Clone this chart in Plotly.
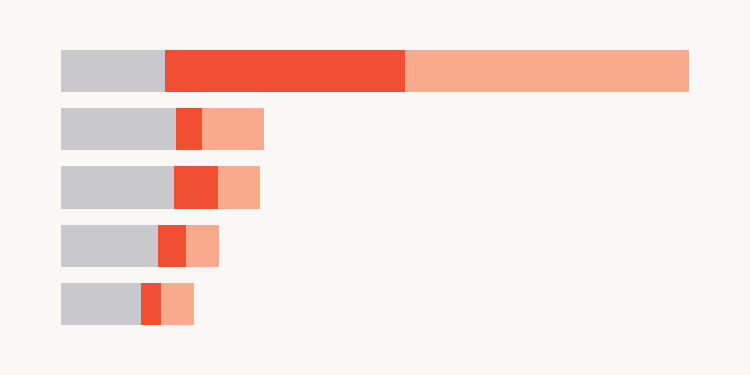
import plotly.graph_objects as go

categories = ["A", "B", "C", "D", "E"]
base_values = [104, 115, 113, 97, 80]
mid_values = [240, 26, 44, 28, 20]
top_values = [284, 62, 42, 33, 33]

colors = ["#C9C9CB", "#F04F34", "#F9AA8D"]

fig = go.Figure()
for vals, c in zip([base_values, mid_values, top_values], colors):
    fig.add_trace(go.Bar(
        y=categories, x=vals, orientation="h",
        marker=dict(color=c, line=dict(width=0)),
        hoverinfo="skip",
    ))

fig.update_layout(
    barmode="stack",
    bargap=0.275,
    width=750, height=375,
    margin=dict(l=61, r=0, t=42, b=42),
    paper_bgcolor="#F9F8F6",
    plot_bgcolor="#F9F8F6",
    showlegend=False,
    xaxis=dict(range=[0, 689], visible=False, fixedrange=True),
    yaxis=dict(autorange="reversed", visible=False, fixedrange=True),
)

fig.write_html("out.html", config={"displayModeBar": False})
